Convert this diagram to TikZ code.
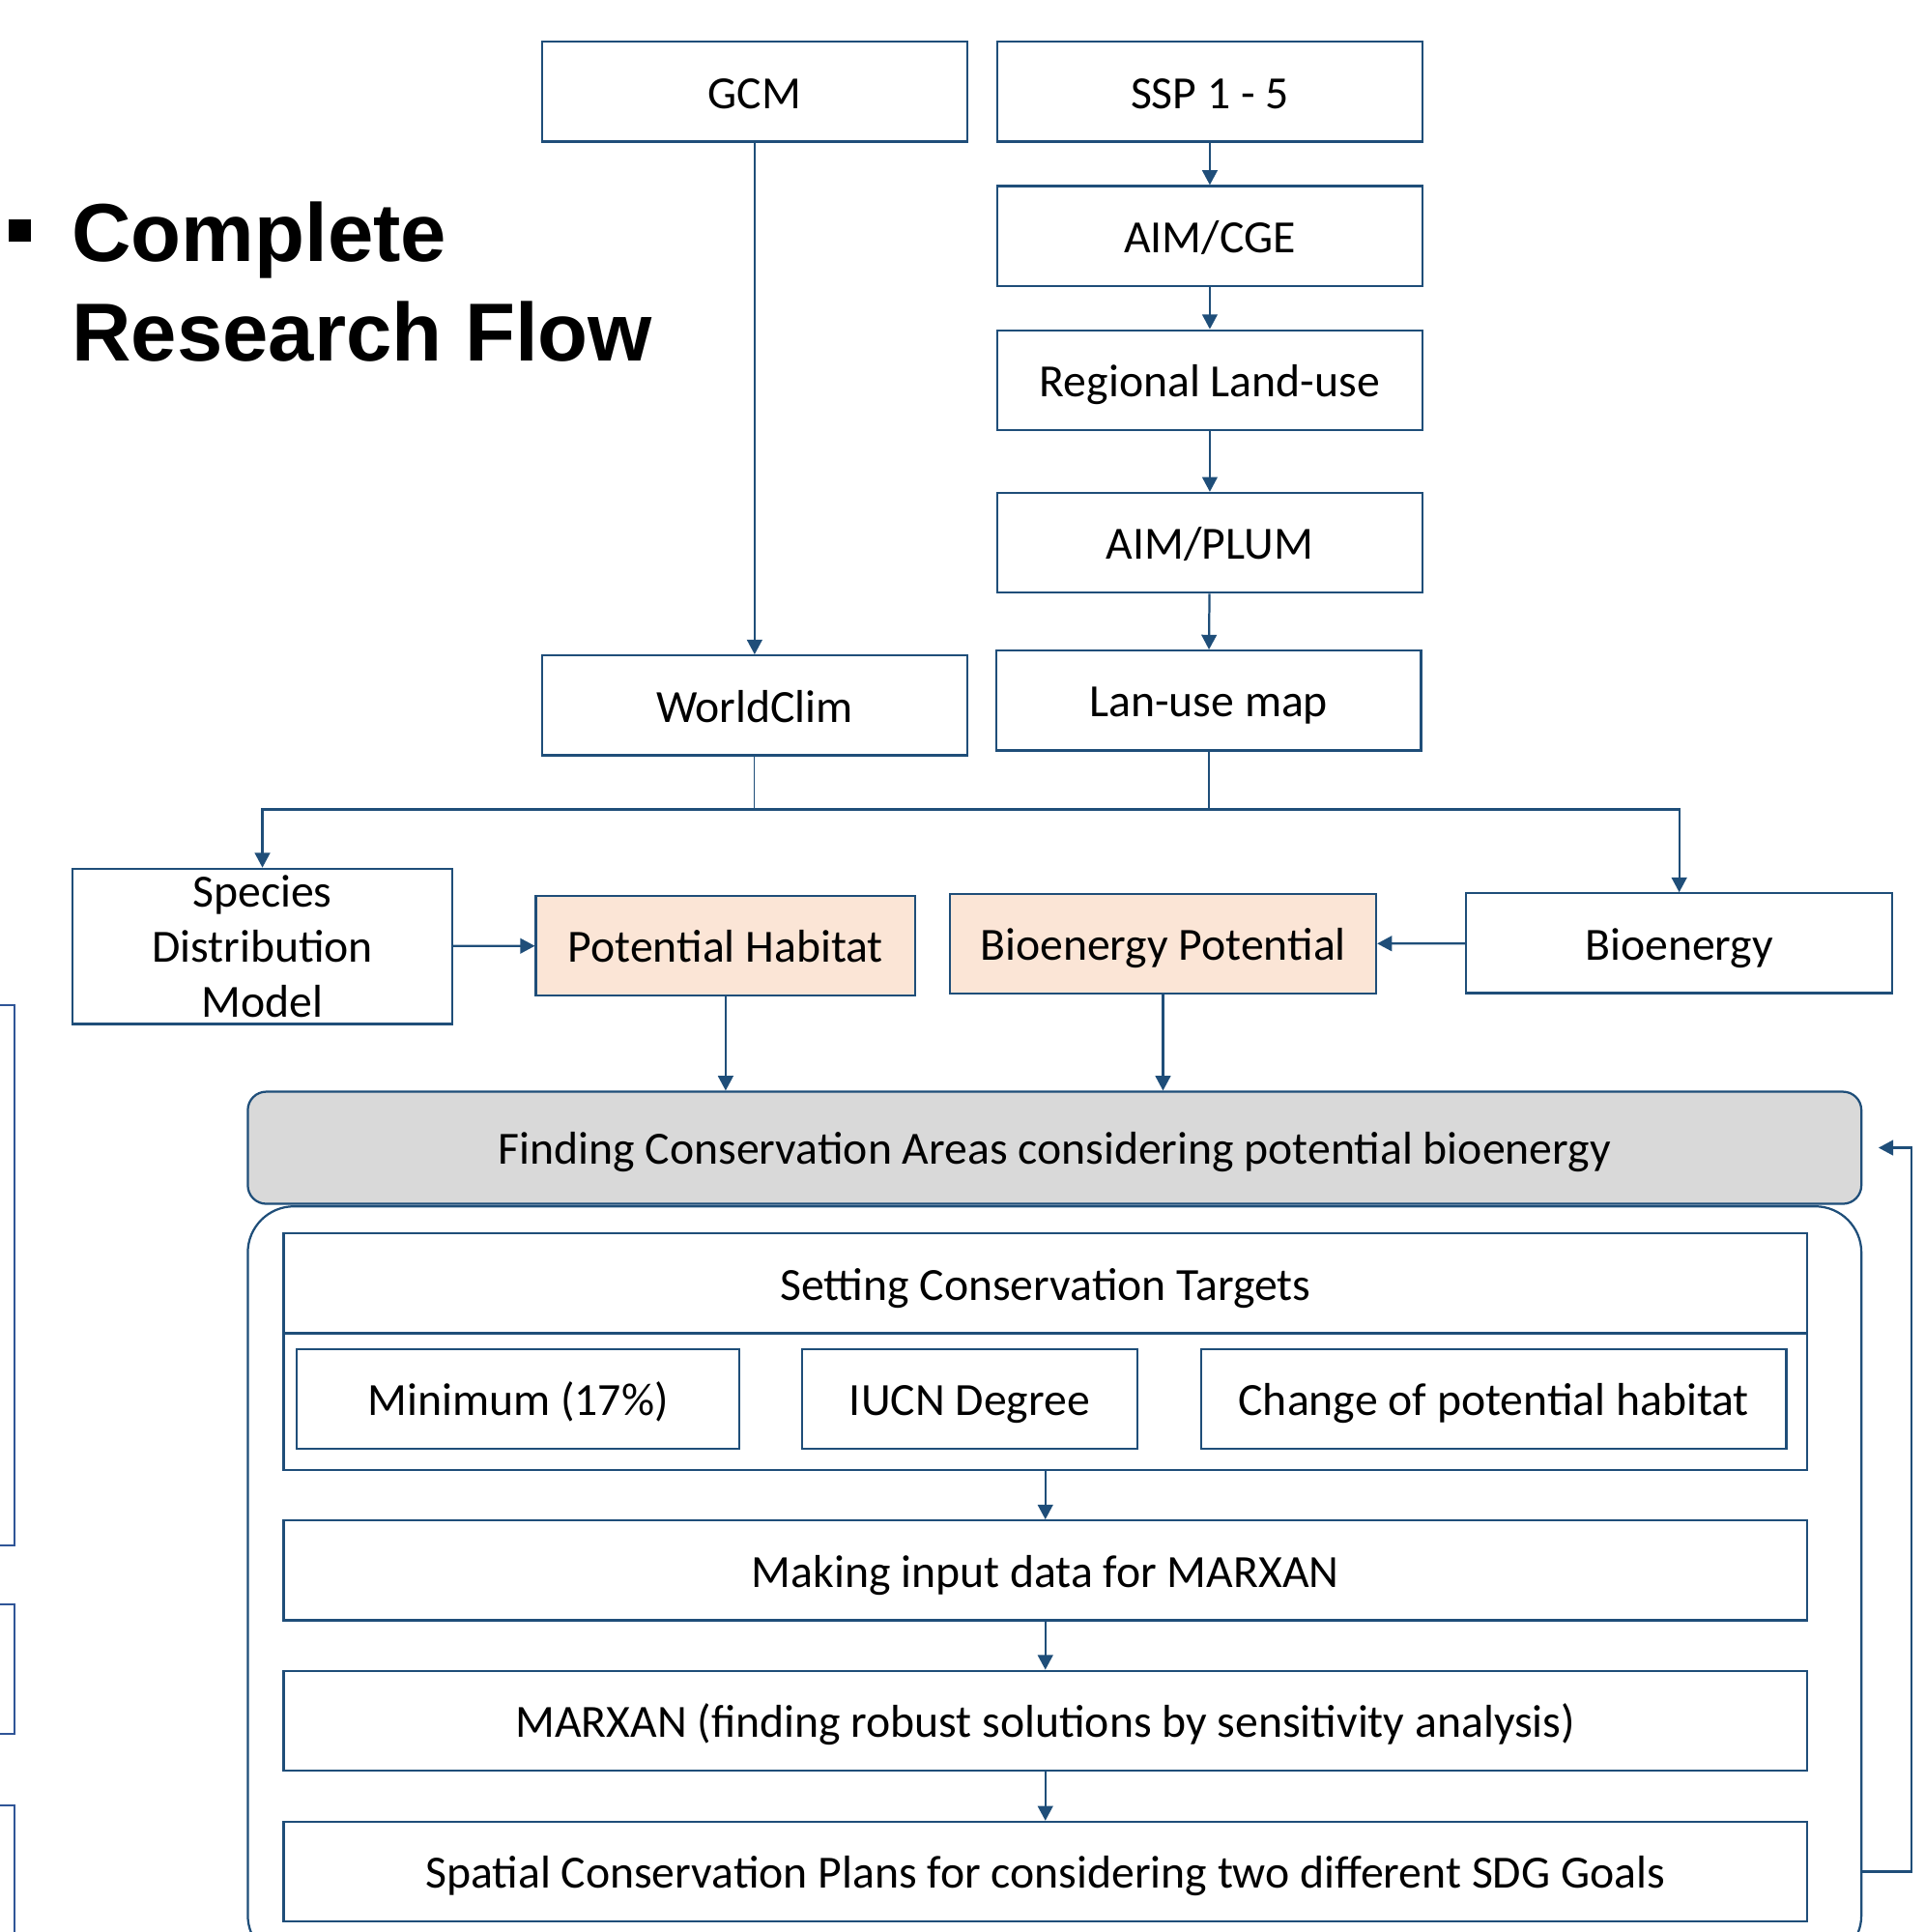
\documentclass[tikz,border=0pt]{standalone}
\usepackage{fontspec}
\setmainfont{Carlito}
\newfontfamily\titlefont{Liberation Sans}
\usetikzlibrary{arrows.meta}
\definecolor{boxblue}{RGB}{31,78,121}
\definecolor{sideblue}{RGB}{47,85,151}
\definecolor{peach}{HTML}{FBE5D6}
\definecolor{panelgrey}{HTML}{D9D9D9}
\tikzset{
  box/.style={draw=boxblue, line width=1pt, inner sep=0pt, align=center, text height=0.62cm, text depth=0.08cm, minimum width=6.9cm, minimum height=1.62cm, font=\fontsize{21.3}{25.5}\selectfont},
  hbox/.style={box, fill=peach, minimum width=6.16cm},
  wide/.style={box, minimum width=24.74cm},
  link/.style={boxblue, line width=1pt},
  heading/.style={anchor=base west, inner sep=0pt, font=\titlefont\bfseries\fontsize{38}{46}\selectfont},
}
\begin{document}
\begin{tikzpicture}[x=0.02cm, y=-0.02cm, >={Triangle[length=6.8pt,width=7pt]}]
                \useasboundingbox (0,0) rectangle (1562,1568); \clip (0,0) rectangle (1562,1568);
                \node[fill=black, minimum size=0.36cm, inner sep=0pt] (bullet) at (16,187) {}; \node[heading] (title1) at (58,212) {Complete}; \node[heading] (title2) at (58,293) {Research Flow};
                \draw[sideblue, line width=1pt] (-20,816) rectangle (12,1254); \draw[sideblue, line width=1pt] (-20,1302) rectangle (12,1407); \draw[sideblue, line width=1pt] (-20,1465) rectangle (12,1620);

                \node[box] (gcm) at (612.5,74.5) {GCM}; \node[box] (ssp) at (982,74.5) {SSP 1 - 5};
                \node[box] (cge) at (982,191.5) {AIM/CGE};
                \node[box] (regional) at (982,308.5) {Regional Land-use};
                \node[box] (plum) at (982,440.5) {AIM/PLUM};
                \node[box] (worldclim) at (612.5,572.5) {WorldClim}; \node[box] (lanuse) at (981,568.5) {Lan-use map};
                \node[box, text height={}, text depth={}, minimum width=6.16cm, minimum height=2.52cm] (sdm) at (213,768) {Species\\Distribution\\Model}; \node[hbox] (habitat) at (589,767.5) {Potential Habitat}; \node[hbox, minimum width=6.92cm] (biopot) at (944,766) {Bioenergy Potential}; \node[box, minimum width=6.92cm] (bioenergy) at (1363,765.5) {Bioenergy};

                \node[draw=boxblue, line width=1pt, rounded corners=0.75cm, minimum width=26.2cm, minimum height=12.26cm] (frame) at (856,1285.5) {};
                \node[box, fill=panelgrey, rounded corners=0.3cm, minimum width=26.2cm, minimum height=1.82cm] (finding) at (856,931.5) {Finding Conservation Areas considering potential bioenergy};
                \node[wide] (setting) at (848.5,1041.5) {Setting Conservation Targets}; \node[wide, minimum height=2.22cm] (targets) at (848.5,1137.5) {};
                \node[box, minimum width=7.18cm] (minimum) at (420.5,1135.5) {Minimum (17\%)}; \node[box, minimum width=5.44cm] (iucn) at (787,1135.5) {IUCN Degree}; \node[box, minimum width=9.5cm] (change) at (1212.5,1135.5) {Change of potential habitat};
                \node[wide] (making) at (848.5,1274.5) {Making input data for MARXAN};
                \node[wide] (marxan) at (848.5,1396.5) {MARXAN (finding robust solutions by sensitivity analysis)};
                \node[wide] (spatial) at (848.5,1519) {Spatial Conservation Plans for considering two different SDG Goals};

                \coordinate (split) at (981,657);
                \draw[link,->] (ssp) to (cge); \draw[link,->] (cge) to (regional); \draw[link,->] (regional) to (plum); \draw[link,->] (plum) to (lanuse);
                \draw[link,->] (gcm) to (worldclim);
                \draw[link] (lanuse) to (split); \draw[link, line width=0.5pt] (worldclim) to (worldclim |- split);
                \draw[link,->] (split) -| (sdm); \draw[link,->] (split) -| (bioenergy);
                \draw[link,->] (sdm) to (habitat); \draw[link,->] (bioenergy) to (biopot);
                \draw[link,->] (habitat) to (habitat |- finding.north); \draw[link,->] (biopot) to (biopot |- finding.north);
                \draw[link,->] (targets) to (making); \draw[link,->] (making) to (marxan); \draw[link,->] (marxan) to (spatial);
                \draw[link,->] (frame.east |- spatial.east) -- ++(40,0) |- ([xshift=0.26cm]finding.east);
            \end{tikzpicture}
\end{document}
